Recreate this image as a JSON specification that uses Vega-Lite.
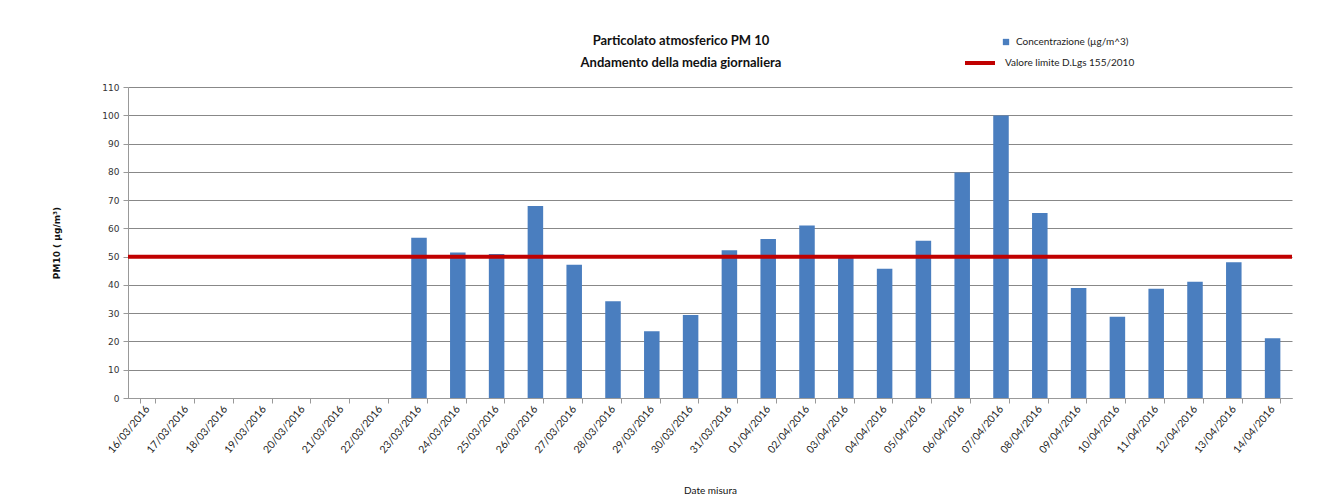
{
  "$schema": "https://vega.github.io/schema/vega-lite/v6.json",
  "width": 1164,
  "height": 311,
  "autosize": {"type": "none"},
  "padding": {"left": 128, "top": 87, "right": 40, "bottom": 97},
  "background": "white",
  "title": {
    "text": ["Particolato atmosferico PM 10", "Andamento della media giornaliera"],
    "anchor": "middle",
    "dx": -29,
    "dy": 55,
    "offset": 22,
    "font": "Lato",
    "fontSize": 13,
    "fontWeight": "bold",
    "lineHeight": 22,
    "color": "#111111"
  },
  "data": {
    "values": [
      {"data": "16/03/2016", "pm10": null},
      {"data": "17/03/2016", "pm10": null},
      {"data": "18/03/2016", "pm10": null},
      {"data": "19/03/2016", "pm10": null},
      {"data": "20/03/2016", "pm10": null},
      {"data": "21/03/2016", "pm10": null},
      {"data": "22/03/2016", "pm10": null},
      {"data": "23/03/2016", "pm10": 56.7},
      {"data": "24/03/2016", "pm10": 51.5},
      {"data": "25/03/2016", "pm10": 50.9},
      {"data": "26/03/2016", "pm10": 67.9},
      {"data": "27/03/2016", "pm10": 47.1},
      {"data": "28/03/2016", "pm10": 34.2},
      {"data": "29/03/2016", "pm10": 23.6},
      {"data": "30/03/2016", "pm10": 29.4},
      {"data": "31/03/2016", "pm10": 52.3},
      {"data": "01/04/2016", "pm10": 56.2},
      {"data": "02/04/2016", "pm10": 61.0},
      {"data": "03/04/2016", "pm10": 50.6},
      {"data": "04/04/2016", "pm10": 45.7},
      {"data": "05/04/2016", "pm10": 55.6},
      {"data": "06/04/2016", "pm10": 79.8},
      {"data": "07/04/2016", "pm10": 99.9},
      {"data": "08/04/2016", "pm10": 65.4},
      {"data": "09/04/2016", "pm10": 38.9},
      {"data": "10/04/2016", "pm10": 28.7},
      {"data": "11/04/2016", "pm10": 38.6},
      {"data": "12/04/2016", "pm10": 41.1},
      {"data": "13/04/2016", "pm10": 48.0},
      {"data": "14/04/2016", "pm10": 21.1}
    ]
  },
  "encoding": {
    "y": {
      "field": "pm10",
      "type": "quantitative",
      "scale": {"domain": [0, 110], "nice": false},
      "axis": {
        "title": "PM10 ( µg/m³)",
        "titleFont": "DejaVu Sans",
        "titleFontSize": 9,
        "titleFontWeight": "bold",
        "titleColor": "#111111",
        "titlePadding": 40,
        "values": [0, 10, 20, 30, 40, 50, 60, 70, 80, 90, 100, 110],
        "labelOverlap": false,
        "labelFont": "DejaVu Sans",
        "labelFontSize": 9,
        "labelColor": "#333333",
        "labelPadding": 4,
        "tickSize": 5,
        "tickColor": "#999999",
        "domainColor": "#999999",
        "grid": true,
        "gridColor": "#888888",
        "gridWidth": 1
      }
    }
  },
  "layer": [
    {
      "mark": {"type": "bar", "color": "#4A7EBF"},
      "encoding": {
        "x": {
          "field": "data",
          "type": "nominal",
          "sort": null,
          "scale": {
            "domain": ["16/03/2016","17/03/2016","18/03/2016","19/03/2016","20/03/2016","21/03/2016","22/03/2016","23/03/2016","24/03/2016","25/03/2016","26/03/2016","27/03/2016","28/03/2016","29/03/2016","30/03/2016","31/03/2016","01/04/2016","02/04/2016","03/04/2016","04/04/2016","05/04/2016","06/04/2016","07/04/2016","08/04/2016","09/04/2016","10/04/2016","11/04/2016","12/04/2016","13/04/2016","14/04/2016"],
            "paddingInner": 0.6,
            "paddingOuter": 0.3
          },
          "axis": {
            "title": "Date misura",
            "titleFont": "Lato",
            "titleFontSize": 10,
            "titleFontWeight": "normal",
            "titleColor": "#111111",
            "titlePadding": 30,
            "labelAngle": -50,
            "labelAlign": "right",
            "labelBaseline": "middle",
            "labelFont": "Lato",
            "labelFontSize": 10.5,
            "labelColor": "#222222",
            "labelPadding": 4,
            "labelOverlap": false,
            "tickBand": "extent",
            "tickSize": 5,
            "tickColor": "#999999",
            "domainColor": "#999999",
            "grid": false
          }
        },
        "fill": {
          "datum": "Concentrazione  (µg/m^3)",
          "scale": {"range": ["#4A7EBF"]},
          "legend": {
            "title": null,
            "orient": "none",
            "legendX": 873,
            "legendY": -50,
            "symbolType": "square",
            "symbolSize": 40,
            "symbolStrokeWidth": 0,
            "labelFont": "Lato",
            "labelFontSize": 10,
            "labelColor": "#222222",
            "labelOffset": 5
          }
        }
      }
    },
    {
      "data": {"values": [{"pm10": 50}]},
      "mark": {"type": "rule", "strokeWidth": 4, "color": "#C00000"},
      "encoding": {
        "stroke": {
          "datum": "Valore limite D.Lgs 155/2010",
          "scale": {"range": ["#C00000"]},
          "legend": {
            "title": null,
            "orient": "none",
            "legendX": 835,
            "legendY": -41,
            "symbolType": "stroke",
            "symbolSize": 900,
            "symbolStrokeWidth": 4,
            "labelFont": "Lato",
            "labelFontSize": 10,
            "labelColor": "#222222",
            "labelOffset": 8
          }
        }
      }
    }
  ],
  "config": {
    "view": {"stroke": null}
  }
}
